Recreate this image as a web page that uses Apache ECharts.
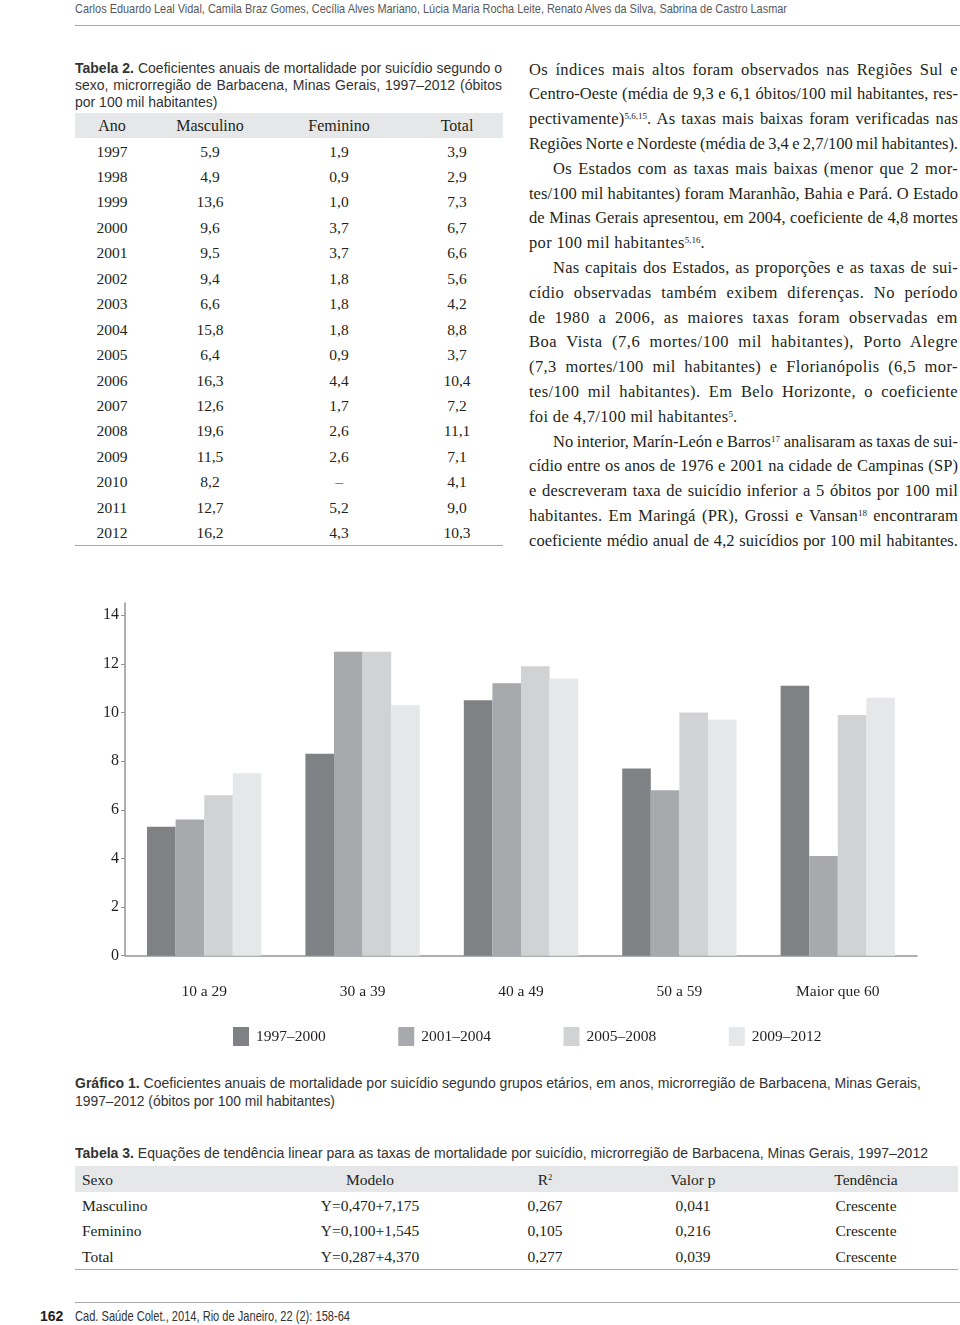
<!DOCTYPE html>
<html><head><meta charset="utf-8">
<script src="https://cdn.jsdelivr.net/npm/echarts@6/dist/echarts.min.js"></script>
<style>
html,body{margin:0;padding:0;background:#fff;}
#page{position:relative;width:960px;height:1325px;overflow:hidden;background:#fff;}
.t{position:absolute;white-space:nowrap;line-height:1;}
.serif{font-family:"Liberation Serif","DejaVu Serif",serif;}
.sans{font-family:"Liberation Sans",Arial,sans-serif;}
.rule{position:absolute;height:0;}
.band{position:absolute;background:#e6e7e8;}
sup{font-size:0.55em;vertical-align:0.6em;line-height:0;letter-spacing:0;}
#chart{position:absolute;left:0;top:580px;width:960px;height:490px;}
</style></head><body><div id="page"><div id="chart"></div></div>
<script>
// ---------- DATA ----------
const ageGroups = ['10 a 29', '30 a 39', '40 a 49', '50 a 59', 'Maior que 60'];
const periods = ['1997–2000', '2001–2004', '2005–2008', '2009–2012'];
const p1997_2000 = [5.3, 8.3, 10.5, 7.7, 11.1];
const p2001_2004 = [5.6, 12.5, 11.2, 6.8, 4.1];
const p2005_2008 = [6.6, 12.5, 11.9, 10.0, 9.9];
const p2009_2012 = [7.5, 10.3, 11.4, 9.7, 10.6];
const yTicks = [0, 2, 4, 6, 8, 10, 12, 14];

const t2Head = ['Ano', 'Masculino', 'Feminino', 'Total'];
const t2Years = ['1997','1998','1999','2000','2001','2002','2003','2004','2005','2006','2007','2008','2009','2010','2011','2012'];
const t2Masc = ['5,9','4,9','13,6','9,6','9,5','9,4','6,6','15,8','6,4','16,3','12,6','19,6','11,5','8,2','12,7','16,2'];
const t2Fem = ['1,9','0,9','1,0','3,7','3,7','1,8','1,8','1,8','0,9','4,4','1,7','2,6','2,6','–','5,2','4,3'];
const t2Tot = ['3,9','2,9','7,3','6,7','6,6','5,6','4,2','8,8','3,7','10,4','7,2','11,1','7,1','4,1','9,0','10,3'];

const t3Head = ['Sexo', 'Modelo', 'R<sup>2</sup>', 'Valor p', 'Tendência'];
const t3Rows = [
  ['Masculino', 'Y=0,470+7,175', '0,267', '0,041', 'Crescente'],
  ['Feminino', 'Y=0,100+1,545', '0,105', '0,216', 'Crescente'],
  ['Total', 'Y=0,287+4,370', '0,277', '0,039', 'Crescente']
];

const bodyLines = [
  ['Os índices mais altos foram observados nas Regiões Sul e', 0, 1],
  ['Centro-Oeste (média de 9,3 e 6,1 óbitos/100 mil habitantes, res-', 0, 1],
  ['pectivamente)<sup>5,6,15</sup>. As taxas mais baixas foram verificadas nas', 0, 1],
  ['Regiões Norte e Nordeste (média de 3,4 e 2,7/100 mil habitantes).', 0, 1],
  ['Os Estados com as taxas mais baixas (menor que 2 mor-', 1, 1],
  ['tes/100 mil habitantes) foram Maranhão, Bahia e Pará. O Estado', 0, 1],
  ['de Minas Gerais apresentou, em 2004, coeficiente de 4,8 mortes', 0, 1],
  ['por 100 mil habitantes<sup>5,16</sup>.', 0, 0],
  ['Nas capitais dos Estados, as proporções e as taxas de sui-', 1, 1],
  ['cídio observadas também exibem diferenças. No período', 0, 1],
  ['de 1980 a 2006, as maiores taxas foram observadas em', 0, 1],
  ['Boa Vista (7,6 mortes/100 mil habitantes), Porto Alegre', 0, 1],
  ['(7,3 mortes/100 mil habitantes) e Florianópolis (6,5 mor-', 0, 1],
  ['tes/100 mil habitantes). Em Belo Horizonte, o coeficiente', 0, 1],
  ['foi de 4,7/100 mil habitantes<sup>5</sup>.', 0, 0],
  ['No interior, Marín-León e Barros<sup>17</sup> analisaram as taxas de sui-', 1, 1],
  ['cídio entre os anos de 1976 e 2001 na cidade de Campinas (SP)', 0, 1],
  ['e descreveram taxa de suicídio inferior a 5 óbitos por 100 mil', 0, 1],
  ['habitantes. Em Maringá (PR), Grossi e Vansan<sup>18</sup> encontraram', 0, 1],
  ['coeficiente médio anual de 4,2 suicídios por 100 mil habitantes.', 0, 1]
];

// ---------- HTML TEXT HELPERS ----------
const page = document.getElementById('page');
function put(html, x, y, o) {
  o = o || {};
  const el = document.createElement('span');
  el.className = 't ' + (o.font || 'serif');
  el.innerHTML = html;
  el.style.fontSize = (o.size || 15) + 'px';
  el.style.color = o.color || '#231f20';
  if (o.bold) el.style.fontWeight = 'bold';
  if (o.ls) el.style.letterSpacing = o.ls + 'px';
  page.appendChild(el);
  const h = el.offsetHeight;
  el.style.top = (y - h / 2) + 'px';
  let w = el.getBoundingClientRect().width;
  if (o.w) {
    if (o.mode === 'justify') {
      const txt = el.textContent;
      const spaces = (txt.match(/ /g) || []).length;
      if (o.spread) {
        const extra = o.w - w;
        if (extra > 0) {
          const ls = Math.min(extra * 0.45 / txt.length, 0.7);
          el.style.letterSpacing = ls + 'px';
          w = el.getBoundingClientRect().width;
        }
      }
      if (spaces) el.style.wordSpacing = ((o.w - w) / spaces) + 'px';
    } else {
      el.style.transformOrigin = '0 50%';
      el.style.transform = 'scaleX(' + (o.w / w) + ')';
    }
    w = o.w;
  }
  let left = x;
  if (o.align === 'center') left = x - w / 2;
  else if (o.align === 'right') left = x - w;
  el.style.left = left + 'px';
  return el;
}
function rule(x1, x2, y, color, width) {
  const d = document.createElement('div');
  d.className = 'rule';
  d.style.left = x1 + 'px'; d.style.width = (x2 - x1) + 'px';
  d.style.top = (y - width / 2) + 'px';
  d.style.borderTop = width + 'px solid ' + color;
  page.appendChild(d);
}
function band(x1, x2, y1, y2) {
  const d = document.createElement('div');
  d.className = 'band';
  d.style.left = x1 + 'px'; d.style.width = (x2 - x1) + 'px';
  d.style.top = y1 + 'px'; d.style.height = (y2 - y1) + 'px';
  page.appendChild(d);
}

// Running header
put('Carlos Eduardo Leal Vidal, Camila Braz Gomes, Cecília Alves Mariano, Lúcia Maria Rocha Leite, Renato Alves da Silva, Sabrina de Castro Lasmar',
  75, 8, {font: 'sans', size: 13, color: '#58595b', w: 712});
rule(75, 960, 25, '#a7a9ac', 1);

// Tabela 2 caption
put('<b>Tabela 2.</b> Coeficientes anuais de mortalidade por suicídio segundo o', 75, 68, {font: 'sans', size: 14, color: '#333', w: 427, mode: 'justify'});
put('sexo, microrregião de Barbacena, Minas Gerais, 1997–2012 (óbitos', 75, 85, {font: 'sans', size: 14, color: '#333', w: 427, mode: 'justify'});
put('por 100 mil habitantes)', 75, 102, {font: 'sans', size: 14, color: '#333'});

// Tabela 2
band(75, 503, 113, 138);
const t2X = [112, 210, 339, 457];
t2Head.forEach((h, i) => put(h, t2X[i], 126, {size: 16, align: 'center', color: '#231f20'}));
t2Years.forEach((yr, r) => {
  const y = 151.5 + r * 25.45;
  [yr, t2Masc[r], t2Fem[r], t2Tot[r]].forEach((v, i) => put(v, t2X[i], y, {size: 15.5, align: 'center', color: '#231f20'}));
});
rule(75, 503, 546, '#a7a9ac', 1.5);

// Right column body text
bodyLines.forEach((ln, i) => {
  const y = 70 + i * 24.8;
  const x = ln[1] ? 553 : 529;
  const w = 958 - x;
  put(ln[0], x, y, {size: 16.5, color: '#231f20', w: ln[2] ? w : 0, mode: 'justify', spread: true, ls: ln[2] ? 0 : 0.35});
});

// Gráfico 1 caption
put('<b>Gráfico 1.</b> Coeficientes anuais de mortalidade por suicídio segundo grupos etários, em anos, microrregião de Barbacena, Minas Gerais,',
  75, 1083, {font: 'sans', size: 14, color: '#333', w: 846});
put('1997–2012 (óbitos por 100 mil habitantes)', 75, 1101, {font: 'sans', size: 14, color: '#333', w: 260});

// Tabela 3
put('<b>Tabela 3.</b> Equações de tendência linear para as taxas de mortalidade por suicídio, microrregião de Barbacena, Minas Gerais, 1997–2012',
  75, 1153, {font: 'sans', size: 14, color: '#333', w: 853});
band(75, 958, 1166, 1192);
const t3X = [82, 370, 545, 693, 866];
t3Head.forEach((h, i) => put(h, t3X[i], 1180, {size: 15.5, align: i ? 'center' : 'left'}));
t3Rows.forEach((row, r) => {
  const y = 1205.5 + r * 25.5;
  row.forEach((v, i) => put(v, t3X[i], y, {size: 15.5, align: i ? 'center' : 'left'}));
});
rule(75, 958, 1270, '#a7a9ac', 1.5);

// Footer
rule(75, 960, 1302, '#a7a9ac', 1);
put('162', 40, 1316, {font: 'sans', size: 14, bold: true, color: '#231f20'});
put('Cad. Saúde Colet., 2014, Rio de Janeiro, 22 (2): 158-64', 75, 1316, {font: 'sans', size: 14, color: '#333', w: 275});

// ---------- CHART ----------
const chart = echarts.init(document.getElementById('chart'), null, {renderer: 'canvas'});
const barColors = ['#808184', '#a7a9ac', '#d1d2d4', '#e6e7e8'];
const seriesData = [p1997_2000, p2001_2004, p2005_2008, p2009_2012];
const axisColor = '#939598';
const serifFont = 'Liberation Serif';
chart.setOption({
  animation: false,
  grid: {left: 125, right: 43, top: 23, bottom: 114.3},
  legend: {
    left: 228, top: 442, icon: 'rect', itemWidth: 16, itemHeight: 19, itemGap: 72.5,
    textStyle: {fontFamily: serifFont, fontSize: 15.5, color: '#231f20', padding: [0, 0, 0, 2]},
    data: periods
  },
  xAxis: {
    type: 'category', data: ageGroups,
    axisLine: {lineStyle: {color: axisColor, width: 1.5}},
    axisTick: {length: 11, lineStyle: {color: axisColor, width: 1.2}},
    axisLabel: {margin: 28, fontFamily: serifFont, fontSize: 15.5, color: '#231f20'}
  },
  yAxis: {
    type: 'value', min: 0, max: 14.5, interval: 2,
    splitLine: {show: false},
    axisLine: {show: true, lineStyle: {color: axisColor, width: 1.5}},
    axisTick: {show: true, length: 4, customValues: yTicks, lineStyle: {color: axisColor, width: 1}},
    axisLabel: {customValues: yTicks, margin: 6, fontFamily: serifFont, fontSize: 16, color: '#231f20'}
  },
  series: seriesData.map((d, i) => ({
    name: periods[i], type: 'bar', data: d,
    barGap: '0%', barCategoryGap: '27.8%',
    itemStyle: {color: barColors[i]}
  }))
});
</script></body></html>
